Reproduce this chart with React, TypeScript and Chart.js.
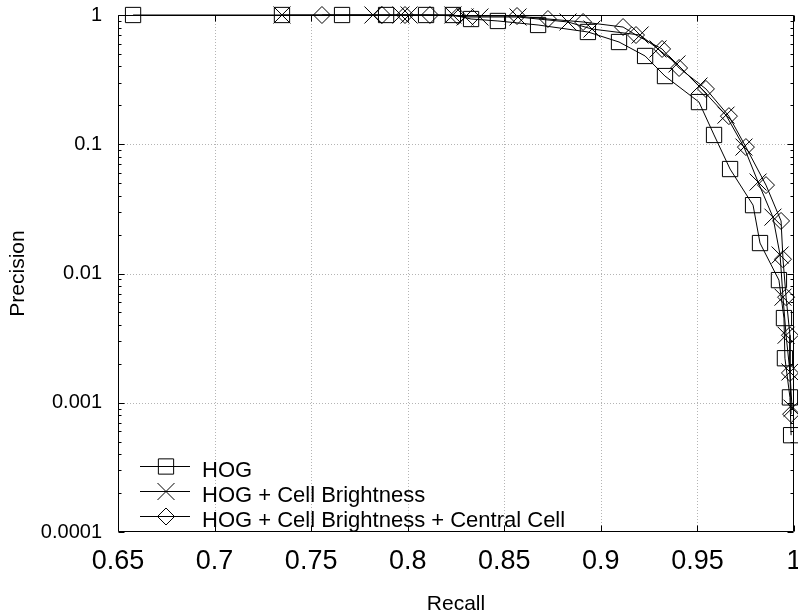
import React, { useEffect, useRef } from 'react';
import { Chart, registerables } from 'chart.js';
import { drawPoint } from 'chart.js/helpers';

Chart.register(...registerables);

// ---------- data ----------
const hogRecall = [0.6578, 0.7349, 0.766, 0.7888, 0.8095, 0.8234, 0.8328, 0.8467, 0.8675, 0.8933, 0.9094, 0.9229, 0.9332, 0.9508, 0.9586, 0.9669, 0.9788, 0.9824, 0.9922, 0.9948, 0.9953, 0.9979, 0.9985];
const hogPrecision = [1, 1, 1, 1, 1, 1, 0.931, 0.899, 0.837, 0.739, 0.618, 0.482, 0.337, 0.212, 0.118, 0.0643, 0.0338, 0.0172, 0.00889, 0.00452, 0.00221, 0.0011, 0.000561];

const cbRecall = [0.7349, 0.782, 0.7965, 0.8007, 0.8234, 0.8297, 0.8374, 0.8571, 0.883, 0.8954, 0.9203, 0.9296, 0.9394, 0.9508, 0.9648, 0.9741, 0.9814, 0.9891, 0.9928, 0.9943, 0.9959, 0.9979, 0.999];
const cbPrecision = [1, 1, 1, 1, 1, 0.965, 0.965, 0.965, 0.883, 0.779, 0.7, 0.546, 0.418, 0.282, 0.168, 0.0951, 0.051, 0.0273, 0.0139, 0.00656, 0.00333, 0.00173, 0.000908];

const ccRecall = [0.7556, 0.7867, 0.7986, 0.8115, 0.826, 0.8566, 0.8726, 0.8908, 0.9115, 0.9182, 0.9317, 0.9405, 0.9544, 0.9663, 0.9751, 0.9855, 0.9933, 0.9943, 0.9959, 0.9979, 0.9979, 0.9985];
const ccPrecision = [1, 1, 1, 1, 0.982, 0.982, 0.931, 0.883, 0.807, 0.7, 0.546, 0.389, 0.268, 0.165, 0.0951, 0.0483, 0.0255, 0.0129, 0.00656, 0.00333, 0.0017, 0.000816];

const seriesNames = ['HOG', 'HOG + Cell Brightness', 'HOG + Cell Brightness + Central Cell'];
const seriesMarkers = ['rect', 'crossRot', 'rectRot'];
const markerRadius = [10.8, 12, 8.5];

const xTickValues = [0.65, 0.7, 0.75, 0.8, 0.85, 0.9, 0.95, 1];
const xTickLabels = ['0.65', '0.7', '0.75', '0.8', '0.85', '0.9', '0.95', '1'];
const yTickValues = [0.0001, 0.001, 0.01, 0.1, 1];
const yTickLabels = ['0.0001', '0.001', '0.01', '0.1', '1'];
const xTitle = 'Recall';
const yTitle = 'Precision';

const FONT = '"Liberation Sans", Arial, Helvetica, sans-serif';

function pts(xs: number[], ys: number[]) {
  return xs.map((x, i) => ({ x, y: ys[i] }));
}

const framePlugin = {
  id: 'matlabFrame',
  beforeDatasetsDraw(chart: any) {
    const { ctx, chartArea } = chart;
    const { left, right, top, bottom } = chartArea;
    const xs = chart.scales.x;
    const ys = chart.scales.y;
    ctx.save();
    ctx.strokeStyle = '#b4b4b4';
    ctx.lineWidth = 1;
    ctx.setLineDash([1, 2]);
    xTickValues.forEach((v) => {
      const px = Math.round(xs.getPixelForValue(v)) + 0.5;
      if (px <= left + 1 || px >= right - 1) return;
      ctx.beginPath();
      ctx.moveTo(px, top);
      ctx.lineTo(px, bottom);
      ctx.stroke();
    });
    yTickValues.forEach((v) => {
      const py = Math.round(ys.getPixelForValue(v)) + 0.5;
      if (py <= top + 1 || py >= bottom - 1) return;
      ctx.beginPath();
      ctx.moveTo(left, py);
      ctx.lineTo(right, py);
      ctx.stroke();
    });
    ctx.setLineDash([]);
    ctx.strokeStyle = '#000';
    const L = Math.round(left) + 0.5;
    const R = Math.round(right) - 0.5;
    const T = Math.round(top) + 0.5;
    const B = Math.round(bottom) - 0.5;
    ctx.beginPath();
    ctx.rect(L, T, R - L, B - T);
    ctx.stroke();
    ctx.beginPath();
    xTickValues.forEach((v) => {
      const px = Math.round(xs.getPixelForValue(v)) + 0.5;
      ctx.moveTo(px, B);
      ctx.lineTo(px, B - 6);
      ctx.moveTo(px, T);
      ctx.lineTo(px, T + 6);
    });
    yTickValues.forEach((v, i) => {
      const py = Math.round(ys.getPixelForValue(v)) + 0.5;
      ctx.moveTo(L, py);
      ctx.lineTo(L + 6, py);
      ctx.moveTo(R, py);
      ctx.lineTo(R - 6, py);
      if (i < yTickValues.length - 1) {
        for (let k = 2; k <= 9; k++) {
          const pm = Math.round(ys.getPixelForValue(v * k)) + 0.5;
          ctx.moveTo(L, pm);
          ctx.lineTo(L + 3, pm);
          ctx.moveTo(R, pm);
          ctx.lineTo(R - 3, pm);
        }
      }
    });
    ctx.stroke();
    ctx.restore();
  },
  afterDraw(chart: any) {
    const { ctx } = chart;
    ctx.save();
    const lineY = [466, 491, 516];
    seriesNames.forEach((name, i) => {
      const y = lineY[i] + 0.5;
      ctx.strokeStyle = '#000';
      ctx.lineWidth = 1;
      ctx.beginPath();
      ctx.moveTo(140, y);
      ctx.lineTo(190, y);
      ctx.stroke();
      ctx.fillStyle = 'rgba(0,0,0,0)';
      drawPoint(ctx, { pointStyle: seriesMarkers[i], radius: markerRadius[i], rotation: 0, borderWidth: 1 } as any, 166, y);
      ctx.fillStyle = '#000';
      ctx.font = `22px ${FONT}`;
      ctx.textAlign = 'left';
      ctx.textBaseline = 'middle';
      ctx.fillText(name, 202, lineY[i] + 4.5);
    });
    ctx.restore();
  },
};

export default function App() {
  const ref = useRef<HTMLCanvasElement>(null);

  useEffect(() => {
    if (!ref.current) return;
    const mk = (label: string, data: any[], i: number) => ({
      label,
      data,
      borderColor: '#000',
      borderWidth: 1,
      backgroundColor: 'rgba(0,0,0,0)',
      pointStyle: seriesMarkers[i],
      pointRadius: markerRadius[i],
      pointHoverRadius: markerRadius[i],
      pointBorderColor: '#000',
      pointBackgroundColor: 'rgba(0,0,0,0)',
      pointBorderWidth: 1,
      tension: 0,
      fill: false,
      clip: false as any,
    });
    const chart = new Chart(ref.current, {
      type: 'line',
      data: {
        datasets: [
          mk(seriesNames[0], pts(hogRecall, hogPrecision), 0),
          mk(seriesNames[1], pts(cbRecall, cbPrecision), 1),
          mk(seriesNames[2], pts(ccRecall, ccPrecision), 2),
        ],
      },
      options: {
        animation: false,
        responsive: false,
        devicePixelRatio: 1,
        layout: { autoPadding: false, padding: { left: 0, right: 4, top: 15, bottom: 0 } },
        plugins: { legend: { display: false }, tooltip: { enabled: false } },
        events: [],
        scales: {
          x: {
            type: 'linear',
            position: 'bottom',
            min: 0.65,
            max: 1,
            afterBuildTicks: (s: any) => {
              s.ticks = xTickValues.map((v) => ({ value: v }));
            },
            afterFit: (s: any) => {
              s.height = 79;
              s.paddingLeft = 0;
              s.paddingRight = 0;
              s.paddingTop = 0;
              s.paddingBottom = 0;
            },
            grid: { display: false, drawTicks: false },
            border: { display: false },
            ticks: {
              autoSkip: false,
              maxRotation: 0,
              padding: 13,
              color: '#000',
              font: { family: FONT, size: 27 },
              callback: (_v: any, i: number) => xTickLabels[i],
            },
            title: {
              display: true,
              text: xTitle,
              color: '#000',
              font: { family: FONT, size: 21, lineHeight: 1 },
              padding: { top: 0, bottom: -4 },
            },
          },
          y: {
            type: 'logarithmic',
            min: 0.0001,
            max: 1,
            afterBuildTicks: (s: any) => {
              s.ticks = yTickValues.map((v) => ({ value: v, major: true }));
            },
            afterFit: (s: any) => {
              s.width = 118;
              s.paddingLeft = 0;
              s.paddingRight = 0;
              s.paddingTop = 0;
              s.paddingBottom = 0;
            },
            grid: { display: false, drawTicks: false },
            border: { display: false },
            ticks: {
              autoSkip: false,
              padding: 16,
              color: '#000',
              font: { family: FONT, size: 20 },
              callback: (_v: any, i: number) => yTickLabels[i],
            },
            title: {
              display: true,
              text: yTitle,
              color: '#000',
              font: { family: FONT, size: 21, lineHeight: 1 },
              padding: { top: 7.5, bottom: 0 },
            },
          },
        },
      },
      plugins: [framePlugin],
    } as any);
    return () => chart.destroy();
  }, []);

  return (
    <div style={{ position: 'absolute', left: 0, top: 0, width: 798, height: 611, background: '#fff' }}>
      <canvas ref={ref} width={798} height={611} style={{ display: 'block' }} />
    </div>
  );
}
